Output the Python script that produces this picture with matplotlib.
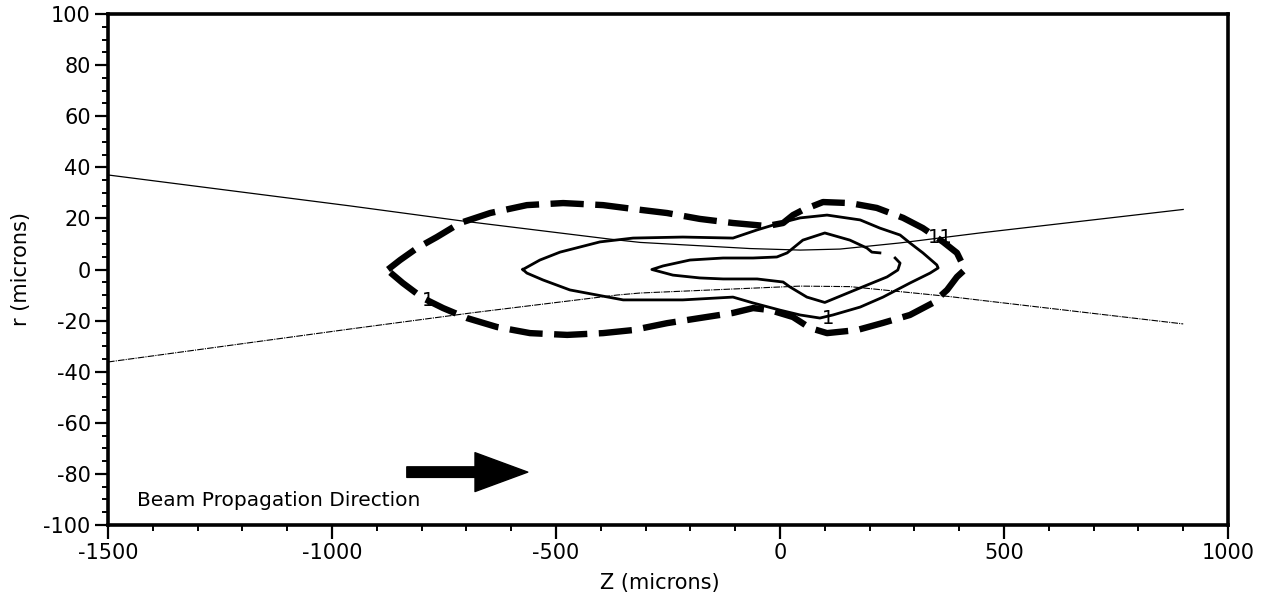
import matplotlib
matplotlib.use("Agg")
import matplotlib.pyplot as plt
from matplotlib.ticker import MultipleLocator

plt.rcParams['font.family'] = ['DejaVu Sans']
plt.rcParams['axes.unicode_minus'] = False

# beam envelope (upper and lower edges), z and r in microns
beam_up_z = [-1500, -960, -714, -380, -312, -67, 45, 134, 268, 446, 900]
beam_up_r = [37.0, 24.9, 19.1, 11.9, 10.6, 8.2, 7.6, 8.0, 10.4, 14.3, 23.5]
beam_lo_z = [-1500, -960, -685, -364, -312, 45, 156, 379, 446, 900]
beam_lo_r = [-36.2, -23.3, -16.9, -10.0, -9.2, -6.5, -6.7, -10.6, -12.0, -21.3]

# outer contour (dashed)
outer_z = [-875, -848, -810, -766, -714, -647, -565, -484, -395, -328, -252, -179,
           -105, -29, 7, 29, 51, 96, 156, 216, 275, 319, 364, 395, 413,
           395, 373, 341, 290, 230, 172, 105, 67, 29, -22, -60, -105, -179,
           -252, -328, -395, -475, -558, -632, -699, -752, -797, -842, -871, -875]
outer_r = [0.0, 3.7, 8.4, 12.7, 18.2, 22.1, 25.2, 26.0, 25.2, 23.7, 22.1, 19.8,
           18.2, 17.0, 18.2, 21.3, 23.3, 26.4, 26.0, 24.1, 20.2, 16.2, 10.8, 6.5, 0.0,
           -2.9, -8.0, -13.1, -17.8, -20.9, -23.7, -24.9, -22.9, -18.6, -15.9, -15.1, -17.0, -19.0,
           -21.0, -23.7, -24.9, -25.6, -24.9, -22.5, -19.0, -15.1, -11.2, -5.3, -1.0, 0.0]

# middle contour (solid)
mid_z = [-574, -536, -491, -402, -328, -217, -105, -51, 0, 45, 105, 179, 223, 268,
         290, 319, 350, 353, 335, 290, 230, 179, 118, 89, 45, 0, -60, -105,
         -217, -350, -469, -529, -565, -574]
mid_r = [0.0, 3.7, 6.8, 10.8, 12.3, 12.7, 12.3, 15.5, 18.2, 20.2, 21.3, 19.4, 16.2, 13.5,
         10.4, 6.5, 1.8, 0.6, -1.4, -5.3, -10.8, -14.7, -17.8, -19.0, -17.8, -15.9, -13.1, -10.8,
         -11.9, -11.9, -8.0, -4.1, -1.4, 0.0]

# inner contour (solid, open at the right)
inner_z = [223, 205, 194, 156, 100, 51, 16, -7, -60, -127, -201, -261, -286,
           -239, -179, -127, -51, 7, 22, 60, 100, 179, 239, 263, 268, 257]
inner_r = [6.5, 6.8, 8.4, 11.5, 14.3, 11.5, 6.5, 4.9, 4.5, 4.5, 3.7, 1.4, 0.0,
           -2.2, -3.3, -3.7, -3.7, -4.9, -6.8, -10.8, -12.9, -7.2, -2.9, -0.2, 2.5, 4.5]

# contour level labels
label_z = [-786, 107, 357]
label_r = [-12.0, -19.0, 12.7]
label_txt = ["1", "1", "11"]

fig = plt.figure(figsize=(12.71, 6.04), dpi=100)
ax = fig.add_axes([108 / 1271, 79 / 604, 1120 / 1271, 511 / 604])

ax.plot(beam_up_z, beam_up_r, color='black', lw=0.9)
ax.plot(beam_lo_z, beam_lo_r, color='black', lw=0.8, ls=(0, (6, 1, 1, 1)))

ax.plot(outer_z, outer_r, color='black', lw=4.6, ls=(0, (5.2, 1.8)),
        solid_capstyle='butt', dash_capstyle='butt')
ax.plot(mid_z, mid_r, color='black', lw=2.0)
ax.plot(inner_z, inner_r, color='black', lw=2.0)

for z, r, t in zip(label_z, label_r, label_txt):
    ax.text(z, r, t, fontsize=14, ha='center', va='center')

# propagation arrow
ax.annotate('', xy=(-563, -79.3), xytext=(-833, -79.3),
            arrowprops=dict(arrowstyle='simple,head_length=1.9,head_width=1.4,tail_width=0.38',
                            mutation_scale=20, fc='black', ec='black',
                            shrinkA=0, shrinkB=0))
ax.text(-1435, -90.5, "Beam Propagation Direction", fontsize=14.5, ha='left', va='center')

ax.set_xlim(-1500, 1000)
ax.set_ylim(-100, 100)
ax.xaxis.set_major_locator(MultipleLocator(500))
ax.xaxis.set_minor_locator(MultipleLocator(100))
ax.yaxis.set_major_locator(MultipleLocator(20))
ax.yaxis.set_minor_locator(MultipleLocator(5))

ax.tick_params(axis='both', which='major', direction='out', width=1.6, labelsize=15)
ax.tick_params(axis='x', which='major', length=10, pad=3)
ax.tick_params(axis='y', which='major', length=9.5, pad=3)
ax.tick_params(axis='both', which='minor', direction='out', width=1.4, length=4.5)

for side in ['left', 'bottom', 'top', 'right']:
    ax.spines[side].set_linewidth(2.6)

ax.set_xlabel("Z (microns)", fontsize=15)
ax.set_ylabel("r (microns)", fontsize=15)
ax.xaxis.set_label_coords(0.493, -0.094)
ax.yaxis.set_label_coords(-0.069, 0.5)

fig.savefig("out.png", dpi=100)
